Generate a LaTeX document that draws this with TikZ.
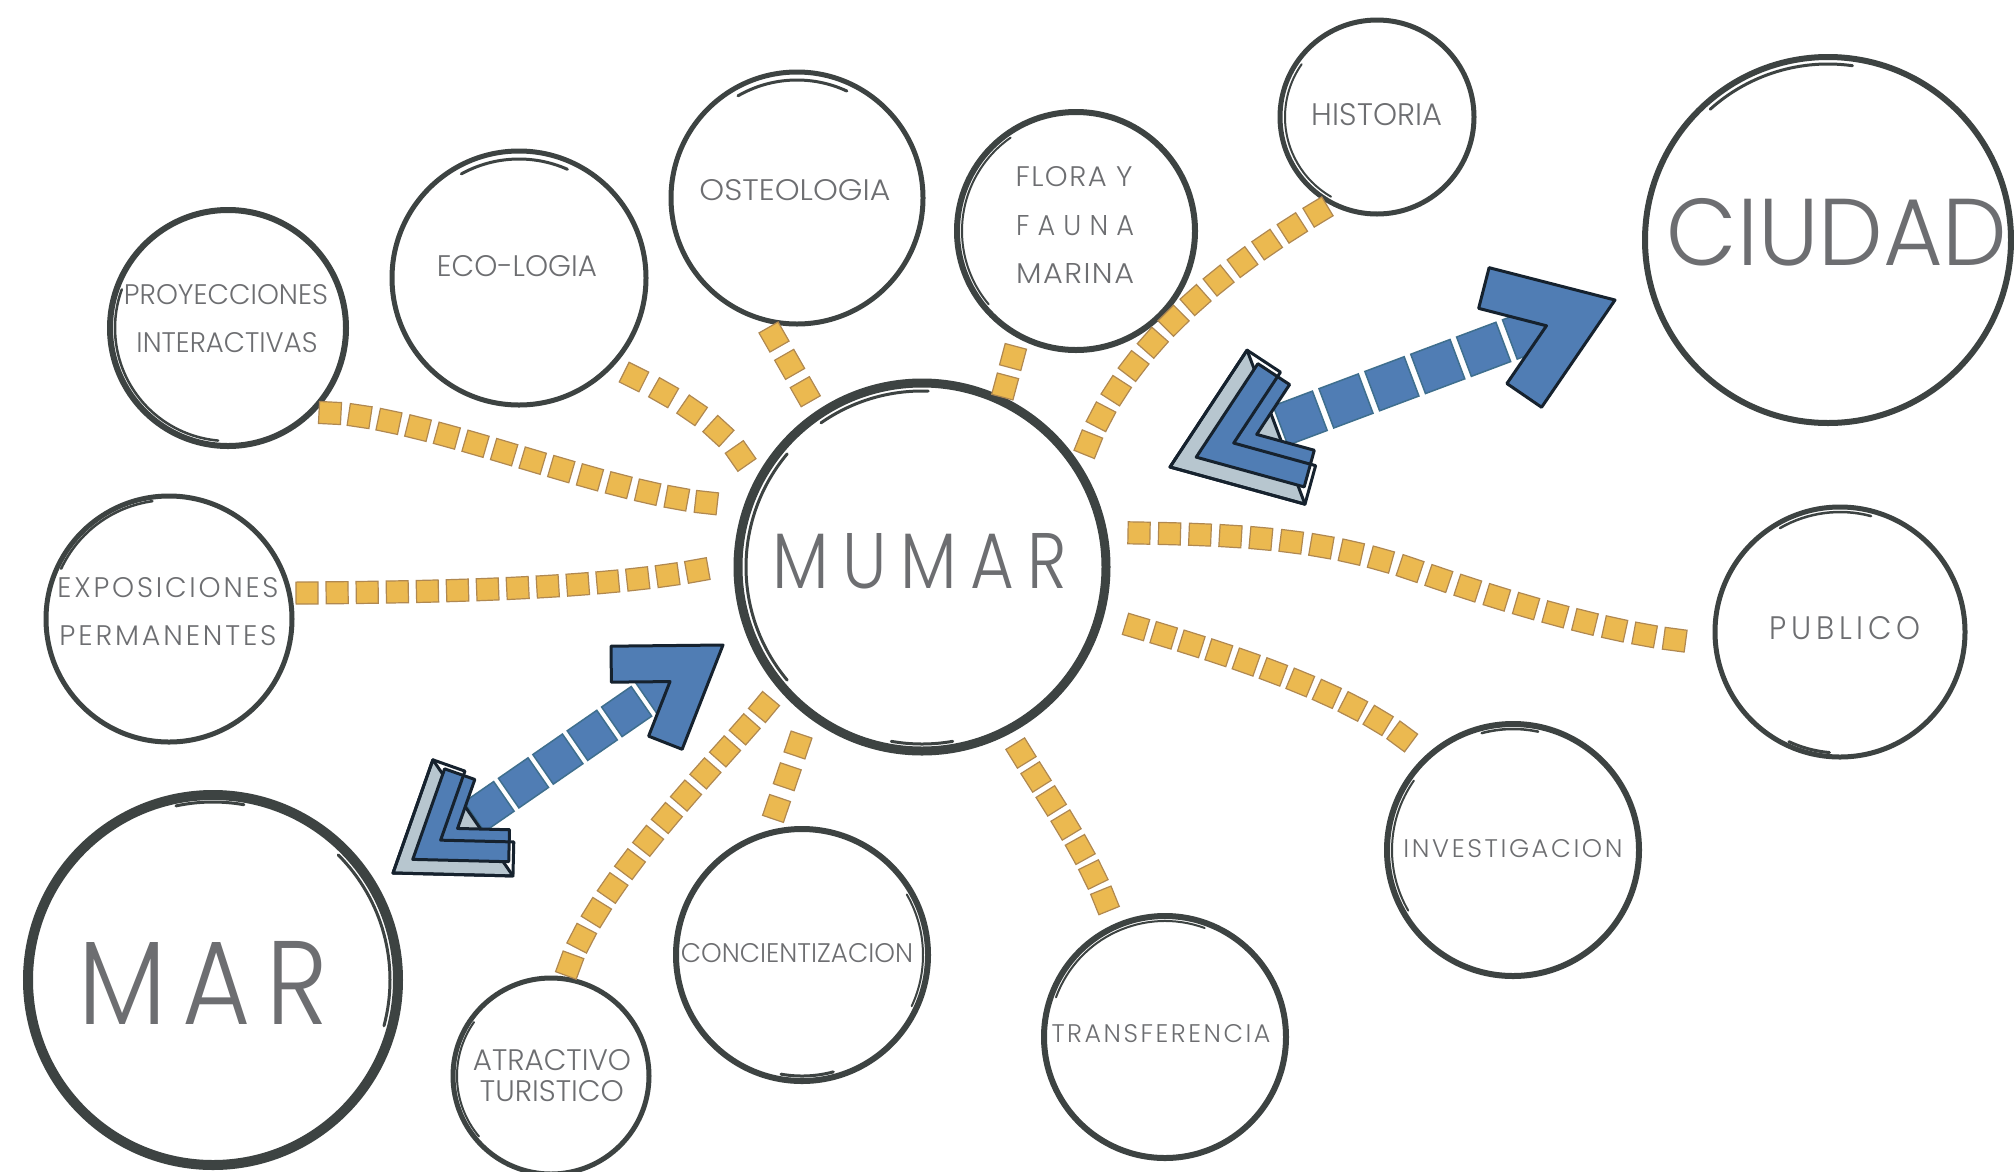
\documentclass[tikz,border=0pt]{standalone}
\usepackage{fontspec}
\usepackage{graphicx}
\usetikzlibrary{calc,decorations.markings}
\IfFontExistsTF{Poppins Light}{\newfontfamily\lblfont{Poppins Light}}{\newfontfamily\lblfont{Poppins}}
\definecolor{ringc}{HTML}{3D4342}
\definecolor{txtc}{HTML}{6D6E71}
\definecolor{ofill}{HTML}{EBB950}
\definecolor{oedge}{HTML}{B08850}
\definecolor{bfill}{HTML}{507DB4}
\definecolor{bedge}{HTML}{16222E}
\definecolor{bsqedge}{HTML}{3F6F8E}
\definecolor{blight}{HTML}{B7C6CF}
\newcommand{\fitlbl}[4][0]{\resizebox{#2pt}{#3pt}{\lblfont\addfontfeatures{LetterSpace=#1}#4}}
\newcommand{\rarc}[5]{\draw[ringc, line width=#5pt, line cap=round] ($(#1)+(#2:#4)$) arc[start angle=#2, end angle=#3, radius=#4];}
\newcommand{\chevpath}[3]{(0,0) -- ({-#1*cos(#2)},{#1*sin(#2)}) -- ({-#1*cos(#2)-#3*sin(#2)},{#1*sin(#2)-#3*cos(#2)}) -- ({-#3/sin(#2)},0) -- ({-#1*cos(#2)-#3*sin(#2)},{-#1*sin(#2)+#3*cos(#2)}) -- ({-#1*cos(#2)},{-#1*sin(#2)}) -- cycle}
\tikzset{
  ringnode/.style={circle, draw=ringc, fill=white, inner sep=0pt, outer sep=0pt},
  lbl/.style={inner sep=0pt, outer sep=0pt, text=txtc},
  osq/.style={draw=oedge, fill=ofill, line width=1.2pt, minimum size=22pt, inner sep=0pt, transform shape},
  ochain/.style={decorate, decoration={markings, mark=between positions 0 and 1 step #1 with {\node[osq]{};}}},
  bsqone/.style={draw=bsqedge, fill=bfill, line width=1.5pt, minimum size=42pt, inner sep=0pt, transform shape},
  bsqtwo/.style={draw=bsqedge, fill=bfill, line width=1.5pt, minimum size=36pt, inner sep=0pt, transform shape},
  bhead/.style={fill=bfill, draw=bedge, line width=3pt, line join=round},
  blightbox/.style={fill=blight, draw=bedge, line width=3pt, line join=round},
}
\begin{document}
\begin{tikzpicture}[x=1pt, y=-1pt]
\useasboundingbox (0,0) rectangle (2014,1171);
\fill[white] (0,0) rectangle (2014,1171);

% ---------- circles ----------
\node[ringnode, minimum size=368pt, line width=9pt] (mumar) at (922,567) {};
\node[ringnode, minimum size=370pt, line width=10pt] (mar) at (213,980) {};
\node[ringnode, minimum size=366pt, line width=6pt] (ciudad) at (1828,240) {};
\node[ringnode, minimum size=194pt, line width=5pt] (historia) at (1377,117) {};
\node[ringnode, minimum size=238pt, line width=6pt] (flora) at (1076,231) {};
\node[ringnode, minimum size=252pt, line width=5pt] (osteo) at (797,198) {};
\node[ringnode, minimum size=254pt, line width=5pt] (eco) at (519,278) {};
\node[ringnode, minimum size=236pt, line width=6pt] (proy) at (228,328) {};
\node[ringnode, minimum size=246pt, line width=5pt] (expo) at (169,619) {};
\node[ringnode, minimum size=250pt, line width=5pt] (publico) at (1840,632) {};
\node[ringnode, minimum size=252pt, line width=6pt] (invest) at (1513,850) {};
\node[ringnode, minimum size=242pt, line width=6pt] (trans) at (1165,1037) {};
\node[ringnode, minimum size=252pt, line width=6pt] (conc) at (802,955) {};
\node[ringnode, minimum size=196pt, line width=5pt] (atr) at (551,1076) {};

% hand-drawn second strokes
\rarc{mumar}{140}{220}{176}{3}
\rarc{mumar}{235}{272}{176}{3}
\rarc{mumar}{80}{100}{177}{3}
\rarc{mar}{-45}{15}{177}{3}
\rarc{mar}{258}{280}{178}{3}
\rarc{ciudad}{228}{278}{176}{3}
\rarc{historia}{120}{215}{92}{2}
\rarc{flora}{140}{235}{114}{2}
\rarc{osteo}{240}{295}{118}{3}
\rarc{eco}{241}{294}{119}{3}
\rarc{proy}{95}{200}{113}{2.5}
\rarc{expo}{205}{262}{119}{2.5}
\rarc{publico}{240}{285}{120}{2.5}
\rarc{publico}{95}{115}{121}{3}
\rarc{invest}{150}{215}{121}{2}
\rarc{invest}{255}{282}{121}{2.5}
\rarc{trans}{200}{290}{116}{2}
\rarc{conc}{-30}{25}{121}{2}
\rarc{conc}{75}{100}{121}{3}
\rarc{atr}{140}{215}{94}{2}

% ---------- orange connectors ----------
\coordinate (c1a) at (330,413);  \coordinate (c1b) at (710,503);
\coordinate (c2a) at (307,593);  \coordinate (c2b) at (700,570);
\coordinate (c3a) at (634,377);  \coordinate (c3b) at (742,458);
\coordinate (c4a) at (774,337);  \coordinate (c4b) at (806,393);
\coordinate (c5a) at (1013,357); \coordinate (c5b) at (1005,387);
\coordinate (c6a) at (1318,212); \coordinate (c6b) at (1088,445);
\coordinate (c7a) at (1139,533); \coordinate (c7m) at (1420,572); \coordinate (c7b) at (1677,640);
\coordinate (c8a) at (1136,627); \coordinate (c8b) at (1403,737);
\coordinate (c9a) at (1021,753); \coordinate (c9b) at (1106,903);
\coordinate (c10a) at (798,745); \coordinate (c10b) at (776,810);
\coordinate (c11a) at (764,707); \coordinate (c11b) at (569,967);

\path[ochain=29.8pt] (c1a) .. controls (430,418) and (600,492) .. (c1b);
\path[ochain=30.1pt] (c2a) .. controls (420,592) and (590,590) .. (c2b);
\path[ochain=33.5pt] (c3a) .. controls (680,400) and (720,425) .. (c3b);
\path[ochain=31.5pt] (c4a) -- (c4b);
\path[ochain=30.5pt] (c5a) -- (c5b);
\path[ochain=30.2pt] (c6a) .. controls (1230,265) and (1130,340) .. (c6b);
\path[ochain=30.5pt] (c7a) .. controls (1250,535) and (1330,540) .. (c7m) .. controls (1500,600) and (1600,630) .. (c7b);
\path[ochain=28.9pt] (c8a) .. controls (1230,655) and (1340,690) .. (c8b);
\path[ochain=28.3pt] (c9a) .. controls (1050,800) and (1085,850) .. (c9b);
\path[ochain=33.5pt] (c10a) -- (c10b);
\path[ochain=29.5pt] (c11a) .. controls (720,760) and (600,880) .. (c11b);

% ---------- blue double arrows ----------
\coordinate (a1s) at (1170,467); \coordinate (a1e) at (1615,300);
\coordinate (a2s) at (393,873);  \coordinate (a2e) at (723,645);
\coordinate (a1p) at ($(a1s)!90pt!(a1e)$); \coordinate (a1q) at ($(a1e)!90pt!(a1s)$);
\coordinate (a2p) at ($(a2s)!75pt!(a2e)$); \coordinate (a2q) at ($(a2e)!75pt!(a2s)$);

\path[decorate, decoration={markings, mark=between positions 0 and 1 step 49pt with {\node[bsqone]{};}}] (a1p) -- (a1q);
\path[decorate, decoration={markings, mark=between positions 0 and 1 step 41.8pt with {\node[bsqtwo]{};}}] (a2p) -- (a2q);

% arrow 1 heads
\begin{scope}[shift={(a1e)}, rotate=20.6]
  \filldraw[bhead] \chevpath{130}{35}{42};
\end{scope}
\begin{scope}[shift={(a1s)}, rotate=200.6]
  \filldraw[blightbox] (0,0) -- ({-140*cos(36)},{140*sin(36)}) -- ({-140*cos(36)},{-140*sin(36)}) -- cycle;
  \begin{scope}[shift={(-28,0)}]
    \filldraw[bhead] \chevpath{112}{36}{38};
  \end{scope}
  \draw[bedge, line width=3pt, line join=round] \chevpath{140}{36}{40};
\end{scope}

% arrow 2 heads
\begin{scope}[shift={(a2e)}, rotate=34.6]
  \filldraw[bhead] \chevpath{112}{34}{36};
\end{scope}
\begin{scope}[shift={(a2s)}, rotate=214.6]
  \filldraw[blightbox] (0,0) -- ({-120*cos(36)},{120*sin(36)}) -- ({-120*cos(36)},{-120*sin(36)}) -- cycle;
  \begin{scope}[shift={(-24,0)}]
    \filldraw[bhead] \chevpath{96}{36}{32};
  \end{scope}
  \draw[bedge, line width=3pt, line join=round] \chevpath{120}{36}{34};
\end{scope}

% ---------- labels ----------
\node[lbl] (mumar-t) at (920,561) {\fitlbl[20]{294}{55}{MUMAR}};
\node[lbl] (mar-t) at (203,983) {\fitlbl[15]{249}{83}{MAR}};
\node[lbl] (ciudad-t) at (1837,232) {\fitlbl{341}{67}{CIUDAD}};
\node[lbl] (historia-t) at (1377,115) {\fitlbl{130}{22}{HISTORIA}};
\node[lbl] (flora-t1) at (1074,177) {\fitlbl[5]{117}{20}{FLORA Y}};
\node[lbl] (flora-t2) at (1075,226) {\fitlbl[30]{118}{20}{FAUNA}};
\node[lbl] (flora-t3) at (1075,273) {\fitlbl[5]{118}{20}{MARINA}};
\node[lbl] (osteo-t) at (795,190) {\fitlbl{191}{21}{OSTEOLOGIA}};
\node[lbl] (eco-t) at (517,266) {\fitlbl{160}{21}{ECO-LOGIA}};
\node[lbl] (proy-t1) at (226,295) {\fitlbl{204}{20}{PROYECCIONES}};
\node[lbl] (proy-t2) at (227,343) {\fitlbl{181}{20}{INTERACTIVAS}};
\node[lbl] (expo-t1) at (168,588) {\fitlbl[10]{221}{20}{EXPOSICIONES}};
\node[lbl] (expo-t2) at (168,636) {\fitlbl[10]{217}{20}{PERMANENTES}};
\node[lbl] (publico-t) at (1845,628) {\fitlbl[15]{150}{23}{PUBLICO}};
\node[lbl] (invest-t) at (1513,849) {\fitlbl[10]{219}{18}{INVESTIGACION}};
\node[lbl] (trans-t) at (1161,1034) {\fitlbl[10]{219}{18}{TRANSFERENCIA}};
\node[lbl] (conc-t) at (797,953) {\fitlbl{232}{19}{CONCIENTIZACION}};
\node[lbl] (atr-t1) at (552,1060) {\fitlbl{158}{21}{ATRACTIVO}};
\node[lbl] (atr-t2) at (552,1091) {\fitlbl{144}{21}{TURISTICO}};
\end{tikzpicture}
\end{document}
